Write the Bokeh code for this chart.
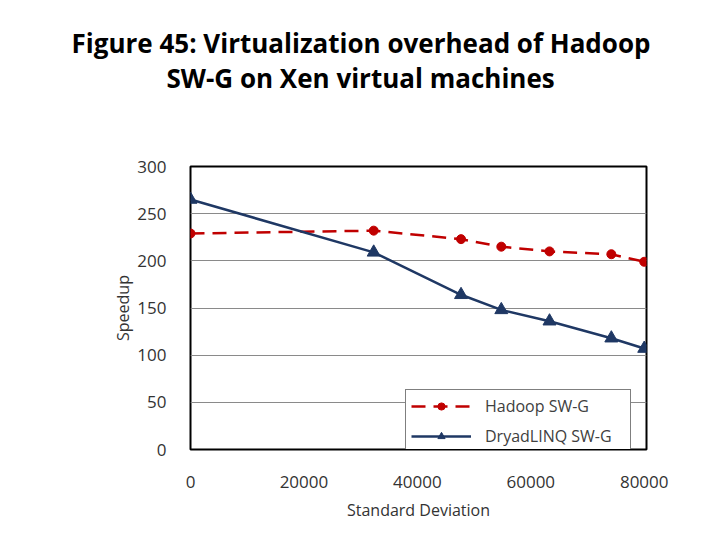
from bokeh.plotting import figure
from bokeh.models import Range1d, Legend, LegendItem, FixedTicker, Title
from bokeh.embed import file_html
from bokeh.resources import INLINE

# ---- data ----
std_dev = [0, 32300, 47700, 54800, 63300, 74200, 80000]
hadoop_speedup = [229, 232, 223, 215, 210, 207, 199]
dryad_speedup = [265, 209, 164, 148, 136, 118, 107]
x_ticks = [0, 20000, 40000, 60000, 80000]
y_ticks = [0, 50, 100, 150, 200, 250, 300]
title_lines = ["Figure 45: Virtualization overhead of Hadoop", "SW-G on Xen virtual machines"]
series_names = ["Hadoop SW-G", "DryadLINQ SW-G"]

FONT = "Open Sans"
W, H = 704, 524
ML, MR, MT = 190, 58, 166
FH = 283
MB = H - MT - FH

p = figure(width=W, height=H, output_backend="svg", toolbar_location=None,
           x_range=Range1d(0, 80400), y_range=Range1d(0, 300),
           min_border_left=ML, min_border_right=MR, min_border_top=MT, min_border_bottom=MB)
p.background_fill_color = "white"
p.border_fill_color = "white"
p.outline_line_color = "black"
p.outline_line_width = 2

p.xgrid.grid_line_color = None
p.ygrid.grid_line_color = "#8a8a8a"
p.ygrid.grid_line_width = 1

for ax in (p.xaxis[0], p.yaxis[0]):
    ax.axis_line_color = None
    ax.major_tick_line_color = None
    ax.minor_tick_line_color = None
    ax.major_label_text_font = FONT
    ax.major_label_text_font_size = "17px"
    ax.major_label_text_color = "#333333"
    ax.axis_label_text_font = FONT
    ax.axis_label_text_font_size = "16px"
    ax.axis_label_text_font_style = "normal"
    ax.axis_label_text_color = "#333333"

p.xaxis[0].ticker = FixedTicker(ticks=x_ticks)
p.yaxis[0].ticker = FixedTicker(ticks=y_ticks)
p.ygrid[0].ticker = FixedTicker(ticks=y_ticks)
p.xaxis[0].major_label_standoff = 20
p.yaxis[0].major_label_standoff = 18
p.xaxis[0].axis_label = "Standard Deviation"
p.yaxis[0].axis_label = "Speedup"
p.xaxis[0].axis_label_standoff = 8
p.yaxis[0].axis_label_standoff = 0

red = "#c00000"
navy = "#1f3864"

l1 = p.line(std_dev, hadoop_speedup, line_color=red, line_width=2.5, line_dash="14 8")
m1 = p.scatter(std_dev, hadoop_speedup, marker="circle", size=9, fill_color=red, line_color=red)
l2 = p.line(std_dev, dryad_speedup, line_color=navy, line_width=2.5)
m2 = p.scatter(std_dev, dryad_speedup, marker="triangle", size=13, fill_color=navy, line_color=navy)

legend = Legend(items=[LegendItem(label=series_names[0], renderers=[l1, m1]),
                       LegendItem(label=series_names[1], renderers=[l2, m2])],
                location=(215, -4))
legend.border_line_color = "black"
legend.border_line_width = 1.5
legend.background_fill_alpha = 1
legend.label_text_font = FONT
legend.label_text_font_size = "16px"
legend.label_text_color = "#404040"
legend.glyph_width = 60
legend.glyph_height = 18
legend.label_height = 18
legend.label_width = 140
legend.spacing = 8
legend.padding = 5
legend.label_standoff = 14
legend.margin = 0
p.add_layout(legend, "center")

# spacer between plot frame and the two title lines (added first = nearest the frame)
p.add_layout(Title(text=" ", align="left", text_font=FONT, text_font_size="26px",
                   standoff=35), "above")
title_standoffs = [-5, 0]
title_offsets = [-24, -119]
for txt, so, off in zip(reversed(title_lines), title_standoffs, title_offsets):
    p.add_layout(Title(text=txt, align="left", offset=off, standoff=so,
                       text_font=FONT, text_font_style="bold",
                       text_font_size="26px", text_color="black"), "above")

open("out.html", "w").write(file_html(p, INLINE))
